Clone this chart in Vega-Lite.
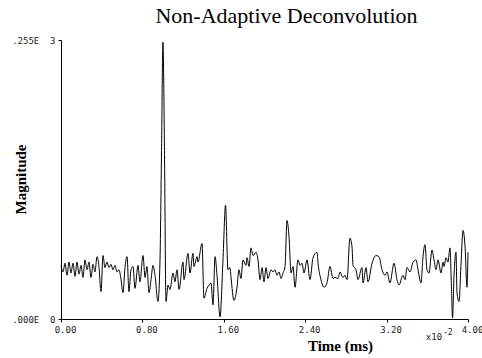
{
  "$schema": "https://vega.github.io/schema/vega-lite/v6.json",
  "width": 407,
  "height": 279,
  "autosize": {"type": "none"},
  "padding": {"left": 61, "top": 40, "right": 14, "bottom": 39},
  "background": "white",
  "config": {"view": {"stroke": null}},
  "title": {"text": "Non-Adaptive Deconvolution", "font": "Liberation Serif", "fontSize": 22, "fontWeight": "normal", "color": "#000", "anchor": "middle", "dx": 22, "offset": 8},
  "layer": [
    {
      "data": {"values": [
        {"t":0.000,"m":49},{"t":0.020,"m":43},{"t":0.039,"m":51},{"t":0.059,"m":40},{"t":0.079,"m":52},{"t":0.098,"m":42},{"t":0.118,"m":51},{"t":0.138,"m":39},{"t":0.157,"m":52},{"t":0.177,"m":41},
        {"t":0.197,"m":49},{"t":0.216,"m":38},{"t":0.236,"m":54},{"t":0.256,"m":45},{"t":0.275,"m":52},{"t":0.295,"m":38},{"t":0.314,"m":50},{"t":0.334,"m":43},{"t":0.354,"m":57},{"t":0.373,"m":48},
        {"t":0.393,"m":25},{"t":0.413,"m":58},{"t":0.432,"m":47},{"t":0.452,"m":52},{"t":0.472,"m":47},{"t":0.491,"m":50},{"t":0.511,"m":45},{"t":0.531,"m":49},{"t":0.550,"m":43},{"t":0.570,"m":45},
        {"t":0.590,"m":36},{"t":0.609,"m":24},{"t":0.629,"m":47},{"t":0.649,"m":57},{"t":0.668,"m":25},{"t":0.688,"m":45},{"t":0.708,"m":48},{"t":0.727,"m":28},{"t":0.757,"m":49},{"t":0.776,"m":34},
        {"t":0.806,"m":58},{"t":0.826,"m":38},{"t":0.845,"m":48},{"t":0.865,"m":24},{"t":0.885,"m":36},{"t":0.904,"m":49},{"t":0.924,"m":40},{"t":0.953,"m":16},{"t":0.973,"m":54},{"t":0.988,"m":154},
        {"t":1.002,"m":253},{"t":1.017,"m":154},{"t":1.032,"m":16},{"t":1.052,"m":31},{"t":1.071,"m":27},{"t":1.101,"m":42},{"t":1.120,"m":34},{"t":1.140,"m":45},{"t":1.160,"m":27},{"t":1.199,"m":52},
        {"t":1.209,"m":36},{"t":1.248,"m":60},{"t":1.268,"m":42},{"t":1.297,"m":60},{"t":1.307,"m":48},{"t":1.337,"m":57},{"t":1.346,"m":52},{"t":1.386,"m":69},{"t":1.405,"m":19},{"t":1.435,"m":28},
        {"t":1.455,"m":31},{"t":1.474,"m":33},{"t":1.494,"m":13},{"t":1.514,"m":57},{"t":1.533,"m":40},{"t":1.563,"m":2},{"t":1.592,"m":54},{"t":1.617,"m":104},{"t":1.641,"m":45},{"t":1.661,"m":47},
        {"t":1.671,"m":38},{"t":1.700,"m":17},{"t":1.730,"m":29},{"t":1.749,"m":45},{"t":1.769,"m":37},{"t":1.789,"m":54},{"t":1.818,"m":49},{"t":1.828,"m":56},{"t":1.848,"m":48},{"t":1.867,"m":65},
        {"t":1.887,"m":58},{"t":1.917,"m":61},{"t":1.936,"m":54},{"t":1.956,"m":36},{"t":1.976,"m":47},{"t":1.995,"m":34},{"t":2.015,"m":47},{"t":2.034,"m":37},{"t":2.064,"m":45},{"t":2.084,"m":43},
        {"t":2.103,"m":45},{"t":2.123,"m":40},{"t":2.143,"m":43},{"t":2.162,"m":37},{"t":2.182,"m":42},{"t":2.202,"m":48},{"t":2.221,"m":90},{"t":2.241,"m":75},{"t":2.261,"m":42},{"t":2.280,"m":48},
        {"t":2.300,"m":29},{"t":2.329,"m":54},{"t":2.349,"m":49},{"t":2.369,"m":51},{"t":2.388,"m":42},{"t":2.418,"m":54},{"t":2.447,"m":36},{"t":2.477,"m":56},{"t":2.516,"m":61},{"t":2.526,"m":51},
        {"t":2.555,"m":36},{"t":2.585,"m":29},{"t":2.614,"m":33},{"t":2.644,"m":48},{"t":2.673,"m":37},{"t":2.693,"m":38},{"t":2.722,"m":37},{"t":2.742,"m":43},{"t":2.771,"m":38},{"t":2.791,"m":40},
        {"t":2.811,"m":36},{"t":2.840,"m":74},{"t":2.860,"m":66},{"t":2.870,"m":49},{"t":2.899,"m":45},{"t":2.919,"m":36},{"t":2.958,"m":47},{"t":2.968,"m":33},{"t":2.998,"m":47},{"t":3.017,"m":34},
        {"t":3.057,"m":51},{"t":3.096,"m":58},{"t":3.125,"m":57},{"t":3.155,"m":45},{"t":3.184,"m":40},{"t":3.204,"m":43},{"t":3.233,"m":33},{"t":3.273,"m":51},{"t":3.302,"m":36},{"t":3.322,"m":31},
        {"t":3.361,"m":40},{"t":3.381,"m":36},{"t":3.401,"m":47},{"t":3.430,"m":43},{"t":3.460,"m":52},{"t":3.489,"m":54},{"t":3.509,"m":45},{"t":3.538,"m":33},{"t":3.558,"m":57},{"t":3.577,"m":68},
        {"t":3.597,"m":45},{"t":3.617,"m":42},{"t":3.646,"m":63},{"t":3.666,"m":54},{"t":3.686,"m":45},{"t":3.705,"m":54},{"t":3.735,"m":42},{"t":3.754,"m":52},{"t":3.764,"m":48},{"t":3.784,"m":56},
        {"t":3.803,"m":52},{"t":3.823,"m":65},{"t":3.838,"m":27},{"t":3.848,"m":1},{"t":3.862,"m":38},{"t":3.882,"m":61},{"t":3.892,"m":24},{"t":3.912,"m":16},{"t":3.931,"m":49},{"t":3.951,"m":81},
        {"t":3.971,"m":66},{"t":3.990,"m":29},{"t":4.000,"m":61}
      ]},
      "mark": {"type": "line", "color": "#000", "strokeWidth": 1, "interpolate": "monotone"},
      "encoding": {
        "x": {"field": "t", "type": "quantitative", "scale": {"domain": [0, 4], "nice": false, "zero": false},
          "axis": {"values": [0, 0.8, 1.6, 2.4, 3.2, 4.0], "format": ".2f", "title": "Time (ms)", "titleFont": "Liberation Serif", "titleFontSize": 15, "titleFontWeight": "bold", "titleColor": "#000", "titleX": 279, "titleY": 31, "titleBaseline": "alphabetic", "titleAlign": "center", "labelFont": "DejaVu Sans Mono", "labelFontSize": 9, "labelColor": "#222", "labelOffset": 4, "labelPadding": 3, "tickSize": 3, "tickColor": "#000", "domainColor": "#000", "grid": false, "labelFlush": false}},
        "y": {"field": "m", "type": "quantitative", "scale": {"domain": [0, 255], "nice": false, "zero": false},
          "axis": {"values": [0, 255], "labelExpr": "datum.value == 0 ? '.000E\u00a0\u00a00' : '.255E\u00a0\u00a03'", "title": "Magnitude", "titleFont": "Liberation Serif", "titleFontSize": 15, "titleFontWeight": "bold", "titleColor": "#000", "titleX": -41, "titleY": 139, "titleBaseline": "middle", "titleAlign": "center", "labelFont": "DejaVu Sans Mono", "labelFontSize": 9, "labelColor": "#222", "labelPadding": 3, "tickSize": 3, "tickColor": "#000", "domainColor": "#000", "grid": false, "labelFlush": false}}
      }
    },
    {
      "data": {"values": [{}]},
      "mark": {"type": "text", "font": "DejaVu Sans Mono", "fontSize": 9, "color": "#222", "align": "right", "baseline": "middle"},
      "encoding": {
        "x": {"datum": 3.745, "type": "quantitative", "scale": {"domain": [0, 4], "nice": false, "zero": false}},
        "y": {"datum": -16.5, "type": "quantitative", "scale": {"domain": [0, 255], "nice": false, "zero": false}},
        "text": {"value": "x10"}
      }
    },
    {
      "data": {"values": [{}]},
      "mark": {"type": "text", "font": "DejaVu Sans Mono", "fontSize": 8, "color": "#222", "align": "left", "baseline": "middle", "dy": -4, "dx": 1},
      "encoding": {
        "x": {"datum": 3.745, "type": "quantitative", "scale": {"domain": [0, 4], "nice": false, "zero": false}},
        "y": {"datum": -16.5, "type": "quantitative", "scale": {"domain": [0, 255], "nice": false, "zero": false}},
        "text": {"value": "-2"}
      }
    }
  ]
}
